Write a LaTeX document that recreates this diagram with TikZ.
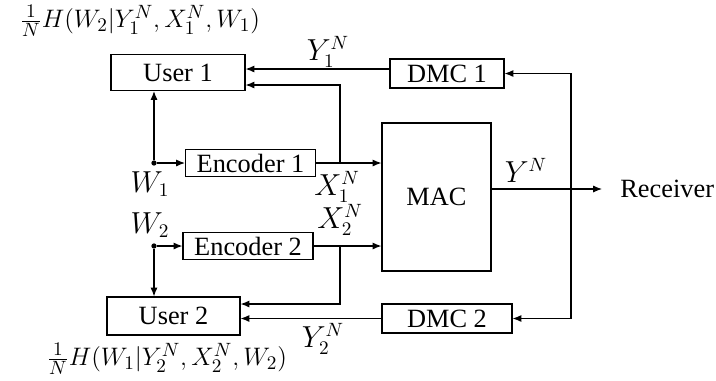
\documentclass[tikz,border=0pt]{standalone}
\usepackage{fontspec}
\setmainfont{Liberation Serif}
\usetikzlibrary{arrows.meta, positioning, calc}

\begin{document}
\begin{tikzpicture}[
    x=0.02cm, y=-0.02cm,
    font=\fontsize{15}{18}\selectfont,
    every node/.style={align=center},
    arrow/.style={-{Latex[length=5pt, width=4pt]}, line width=0.65pt},
    line/.style={line width=0.65pt},
]

% --- Style definitions ---
\tikzset{
    block/.style = {draw, line width=0.65pt, inner sep=0pt},
    user/.style = {block, minimum width=2.68cm, minimum height=0.72cm},
    encoder/.style = {block, minimum width=2.6cm, minimum height=0.53cm},
    dmc/.style = {block, minimum height=0.58cm},
    junction/.style = {circle, fill, inner sep=0pt, minimum size=3pt},
    lbl/.style = {inner sep=0pt},
    mlbl/.style = {lbl, font=\fontsize{16}{19}\selectfont},
}

\useasboundingbox (0,0) rectangle (716,380);

% --- Blocks ---
\node (mac) [block, minimum width=2.18cm, minimum height=2.96cm] at (436.5,197) {MAC};
\node (user1) [user] at (178,72.5) {User 1};
\node (enc1) [encoder] at (250.5,163) {Encoder 1};
\node (dmc1) [dmc, minimum width=2.28cm] at (447,73.5) {DMC 1};
\node (enc2) [encoder] at (248,246) {Encoder 2};
\node (user2) [user, minimum width=2.66cm, minimum height=0.76cm] at (173.5,316) {User 2};
\node (dmc2) [dmc, minimum width=2.6cm] at (447,318.5) {DMC 2};
\node (receiver) [lbl, anchor=west] at (620,189) {Receiver};

% --- Junctions ---
\node (w1) [junction] at (154,163) {};
\node (w2) [junction] at (154,246) {};
\coordinate (tap1) at (340,163);
\coordinate (tap2) at (340,246);
\coordinate (split) at (571,189);

% --- Messages to encoders and users ---
\draw [arrow] (w1) -- (enc1.west);
\draw [arrow] (w1) -- (w1 |- user1.south);
\draw [arrow] (w2) -- (enc2.west);
\draw [arrow] (w2) -- (w2 |- user2.north);

% --- Encoders to MAC, with feedback ---
\draw [arrow] (enc1.east) -- (enc1.east -| mac.west);
\draw [arrow] (enc2.east) -- (enc2.east -| mac.west);
\draw [arrow] (tap1) |- ([yshift=-0.25cm]user1.east);
\draw [arrow] (tap2) |- ([yshift=0.24cm]user2.east);

% --- MAC output ---
\draw [arrow, shorten >=0.36cm] (mac.east |- receiver.west) -- (receiver.west);
\draw [arrow] (split) |- (dmc1.east);
\draw [arrow] (split) |- (dmc2.east);

% --- DMC outputs ---
\draw [arrow] ([yshift=0.09cm]dmc1.west) -- ([yshift=0.09cm]dmc1.west -| user1.east);
\draw [arrow] (dmc2.west) -- (dmc2.west -| user2.east);

% --- Labels ---
\node [lbl] at (140,21) {$\frac{1}{N}H(W_2|Y_1^N,X_1^N,W_1)$};
\node [lbl] at (167,359) {$\frac{1}{N}H(W_1|Y_2^N,X_2^N,W_2)$};
\node [mlbl] at (328,52) {$Y_1^N$};
\node [mlbl] at (323,339) {$Y_2^N$};
\node [mlbl] at (337,187) {$X_1^N$};
\node [mlbl] at (340,220) {$X_2^N$};
\node [mlbl] at (526,170) {$Y^N$};
\node [mlbl] at (150,184) {$W_1$};
\node [mlbl] at (150,225) {$W_2$};

\end{tikzpicture}
\end{document}
